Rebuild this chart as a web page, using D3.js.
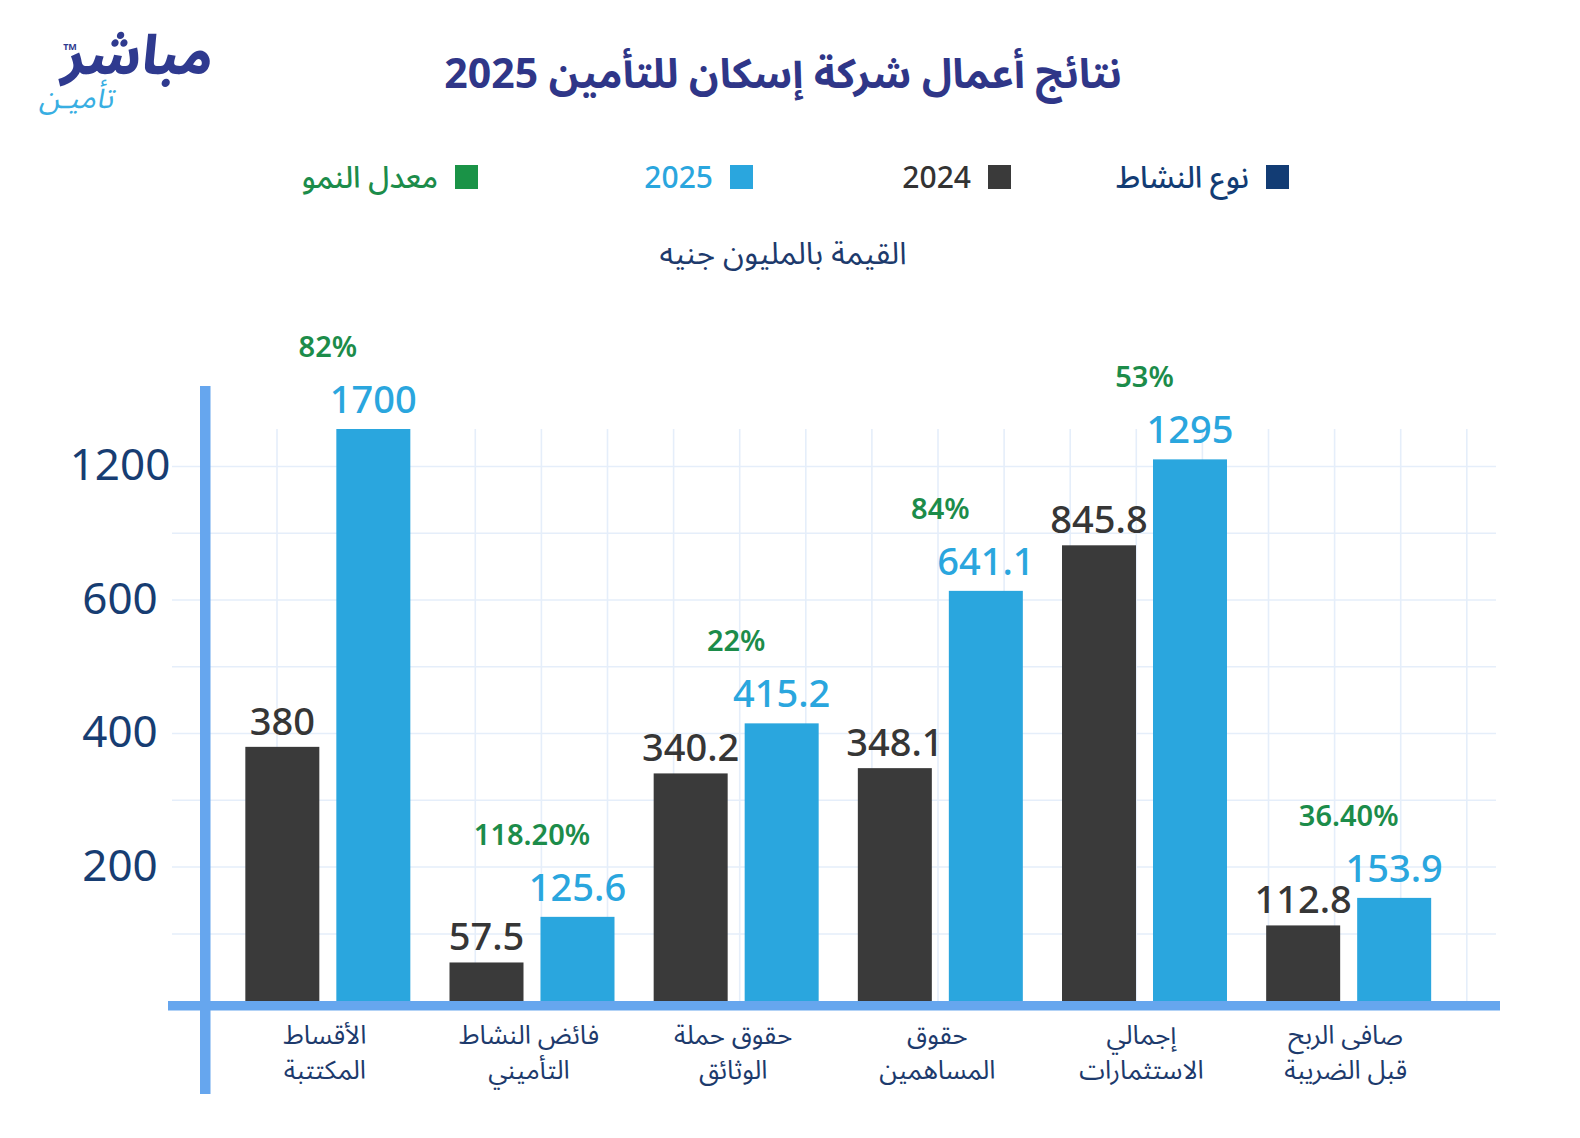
<!DOCTYPE html>
<html lang="ar">
<head>
<meta charset="utf-8">
<script src="https://cdn.jsdelivr.net/npm/d3@7"></script>
<style>
  html, body { margin: 0; padding: 0; background: #ffffff; }
  svg { display: block; }
</style>
</head>
<body>
<div id="chart"></div>
<script>
// ---------- data ----------
const categories = ["الأقساط المكتتبة", "فائض النشاط التأميني", "حقوق حملة الوثائق", "حقوق المساهمين", "إجمالي الاستثمارات", "صافى الربح قبل الضريبة"];
const categoryLines = [
  ["الأقساط", "المكتتبة"],
  ["فائض النشاط", "التأميني"],
  ["حقوق حملة", "الوثائق"],
  ["حقوق", "المساهمين"],
  ["إجمالي", "الاستثمارات"],
  ["صافى الربح", "قبل الضريبة"]
];
const years = ["2024", "2025"];
const values2024 = [380, 57.5, 340.2, 348.1, 845.8, 112.8];
const values2025 = [1700, 125.6, 415.2, 641.1, 1295, 153.9];
const growthLabels = ["82%", "118.20%", "22%", "84%", "53%", "36.40%"];
const yTicks = [200, 400, 600, 1200];
const yGrid = [100, 200, 300, 400, 500, 600, 900, 1200];
const legendItems = ["نوع النشاط", "2024", "2025", "معدل النمو"];
const titleText = "نتائج أعمال شركة إسكان للتأمين 2025";
const subtitleText = "القيمة بالمليون جنيه";

// ---------- setup ----------
const W = 1580, H = 1138;
const FONT = "'Noto Sans', 'Noto Sans Arabic', 'DejaVu Sans', sans-serif";
const colors = {
  navy: "#123c74", dark: "#3a3a3a", blue: "#2aa6de", green: "#1c8c4a",
  axis: "#66a6ee", grid: "#e5eefa", title: "#2f3688", text: "#1d3a6c"
};
const legendColors = [colors.navy, colors.dark, colors.blue, "#1a9347"];
const legendTextColors = [colors.navy, "#333333", colors.blue, colors.green];

const svg = d3.select("#chart").append("svg")
  .attr("width", W).attr("height", H)
  .attr("viewBox", `0 0 ${W} ${H}`)
  .style("font-family", FONT);

svg.append("rect").attr("width", W).attr("height", H).attr("fill", "#fff");

// scales (piecewise to follow the reference's uneven axis)
const y = d3.scaleLinear()
  .domain([0, 200, 400, 600, 1200, 1700])
  .range([1001, 867, 733.5, 600, 466.5, 429]);

const x = d3.scaleBand().domain(categories).range([225.75, 1450.75]).padding(0);
const pairW = 165;
const xs = d3.scaleBand().domain(years).range([0, pairW]).paddingInner(17 / 91);
const groupX = c => x(c) + (x.bandwidth() - pairW) / 2;
const groupCenter = c => x(c) + x.bandwidth() / 2;

// ---------- grid ----------
const grid = svg.append("g");
grid.selectAll("line.h").data(yGrid).join("line")
  .attr("x1", 172).attr("x2", 1496)
  .attr("y1", d => y(d)).attr("y2", d => y(d))
  .attr("stroke", colors.grid).attr("stroke-width", 1.6);
grid.selectAll("line.v").data(d3.range(19)).join("line")
  .attr("x1", i => 277 + i * 66.1).attr("x2", i => 277 + i * 66.1)
  .attr("y1", 429).attr("y2", 1001)
  .attr("stroke", colors.grid).attr("stroke-width", 1.6);

// ---------- bars ----------
const rows = categories.map((c, i) => ({ cat: c, v: [values2024[i], values2025[i]], g: growthLabels[i] }));

const groups = svg.append("g").selectAll("g").data(rows).join("g")
  .attr("transform", d => `translate(${groupX(d.cat)},0)`);

groups.selectAll("rect").data(d => years.map((yr, j) => ({ yr, v: d.v[j] }))).join("rect")
  .attr("x", d => xs(d.yr))
  .attr("width", xs.bandwidth())
  .attr("y", d => y(d.v))
  .attr("height", d => y(0) - y(d.v))
  .attr("fill", d => d.yr === "2024" ? colors.dark : colors.blue);

groups.selectAll("text.val").data(d => years.map((yr, j) => ({ yr, v: d.v[j] }))).join("text")
  .attr("class", "val")
  .attr("x", d => xs(d.yr) + xs.bandwidth() / 2)
  .attr("y", d => y(d.v) - (d.yr === "2024" ? 12 : 16))
  .attr("text-anchor", "middle")
  .attr("font-size", 38)
  .attr("font-weight", 500)
  .attr("fill", d => d.yr === "2024" ? "#363636" : colors.blue)
  .text(d => String(d.v));

groups.append("text")
  .attr("x", pairW / 2)
  .attr("y", d => y(d.v[1]) - 72)
  .attr("text-anchor", "middle")
  .attr("font-size", 29)
  .attr("font-weight", 600)
  .attr("fill", colors.green)
  .text(d => d.g);

// ---------- axes ----------
svg.append("rect").attr("x", 168).attr("y", 1001).attr("width", 1500 - 168).attr("height", 9.5).attr("fill", colors.axis);
svg.append("rect").attr("x", 200).attr("y", 386).attr("width", 10.5).attr("height", 1094 - 386).attr("fill", colors.axis);

const yAxis = d3.axisLeft(y).tickValues(yTicks).tickSize(0).tickPadding(0).tickFormat(d => String(d));
const yAx = svg.append("g").attr("transform", "translate(120,0)").call(yAxis);
yAx.select(".domain").remove();
yAx.selectAll("text")
  .attr("text-anchor", "middle")
  .attr("x", 0)
  .attr("dy", "0.35em")
  .attr("transform", "translate(0,-2)")
  .attr("font-size", 44)
  .attr("font-family", FONT)
  .attr("fill", "#173d72");

// x category labels (two lines, separate text elements)
const xlG = svg.append("g").selectAll("g").data(categories).join("g");
xlG.selectAll("text").data((d, i) => categoryLines[i].map((t, j) => ({ t, j, c: d }))).join("text")
  .attr("x", d => groupCenter(d.c) - 3)
  .attr("y", d => 1044 + d.j * 35)
  .attr("text-anchor", "middle")
  .attr("font-size", 26)
  .attr("fill", colors.text)
  .text(d => d.t);

// ---------- title & subtitle ----------
svg.append("text")
  .attr("x", 783).attr("y", 88)
  .attr("text-anchor", "middle")
  .attr("direction", "rtl")
  .attr("font-size", 41).attr("font-weight", 700)
  .attr("fill", colors.title)
  .text(titleText);

svg.append("text")
  .attr("x", 783).attr("y", 264)
  .attr("text-anchor", "middle")
  .attr("font-size", 31)
  .attr("fill", colors.text)
  .text(subtitleText);

// ---------- legend ----------
const legendSquareX = [1266, 988, 730, 455];
const lg = svg.append("g").selectAll("g").data(legendItems).join("g");
lg.append("rect")
  .attr("x", (d, i) => legendSquareX[i]).attr("y", 165)
  .attr("width", 23).attr("height", 24)
  .attr("fill", (d, i) => legendColors[i]);
lg.append("text")
  .attr("x", (d, i) => legendSquareX[i] - 17).attr("y", 188)
  .attr("text-anchor", "end")
  .attr("font-size", 30).attr("font-weight", 500)
  .attr("fill", (d, i) => legendTextColors[i])
  .text(d => d);

// ---------- logo ----------
const logo = svg.append("g");
logo.append("text")
  .attr("x", 136).attr("y", 74)
  .attr("text-anchor", "middle")
  .attr("font-size", 54).attr("font-weight", 800)
  .attr("fill", "#2f3a8f")
  .attr("transform", "skewX(-8)")
  .attr("transform-origin", "136 74")
  .text("مباشر");
logo.append("text")
  .attr("x", 70).attr("y", 50)
  .attr("text-anchor", "middle")
  .attr("font-size", 9).attr("font-weight", 700)
  .attr("fill", "#2f3a8f")
  .text("TM");
logo.append("text")
  .attr("x", 76).attr("y", 108)
  .attr("text-anchor", "middle")
  .attr("font-size", 30)
  .attr("fill", "#38aee2")
  .attr("transform", "skewX(-12)")
  .attr("transform-origin", "76 108")
  .text("تأميـن");
</script>
</body>
</html>
